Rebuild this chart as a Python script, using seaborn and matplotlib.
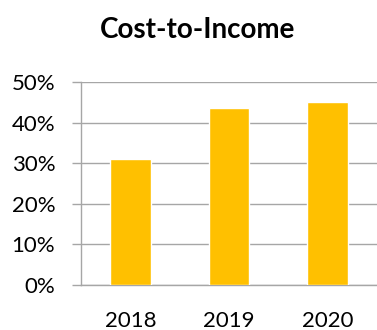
import matplotlib
matplotlib.use("Agg")
import matplotlib.pyplot as plt
import seaborn as sns
import pandas as pd
from matplotlib.ticker import FixedLocator, PercentFormatter

years = ["2018", "2019", "2020"]
cost_to_income = [31.0, 43.6, 45.0]
y_ticks = [0, 10, 20, 30, 40, 50]

sns.set_theme(style="white")
plt.rcParams['font.family'] = ['Lato', 'DejaVu Sans']

df = pd.DataFrame({"year": years, "ratio": cost_to_income})

fig = plt.figure(figsize=(3.77, 3.30), dpi=100)
ax = fig.add_axes([0.2149, 0.1364, 0.7851, 0.6151])

sns.barplot(data=df, x="year", y="ratio", color="#FFC000", width=0.41,
            saturation=1, ax=ax, zorder=3)

ax.set_ylim(0, 50)
ax.set_xlim(-0.5, 2.5)
ax.set_yticks(y_ticks)
ax.yaxis.set_major_formatter(PercentFormatter(decimals=0))
ax.yaxis.grid(True, color="#A6A6A6", linewidth=1, zorder=0)
ax.set_axisbelow(True)

# category separators on the x axis, as in Excel
ax.tick_params(axis="x", which="major", length=0, labelsize=16, pad=19, colors="black")
ax.xaxis.set_minor_locator(FixedLocator([-0.5, 0.5, 1.5, 2.5]))
ax.tick_params(axis="x", which="minor", length=5, width=1, color="#A6A6A6", direction="out")
ax.tick_params(axis="y", length=6.5, width=1, color="#A6A6A6", direction="out",
               labelsize=16, pad=12, left=True)
for lbl in ax.get_yticklabels() + ax.get_xticklabels():
    lbl.set_color("black")

for side in ["top", "right"]:
    ax.spines[side].set_visible(False)
for side in ["left", "bottom"]:
    ax.spines[side].set_color("#A6A6A6")
    ax.spines[side].set_linewidth(1)

ax.set_xlabel("")
ax.set_ylabel("")

fig.text(0.524, 0.909, "Cost-to-Income", ha="center", va="center",
         fontsize=20, fontweight="bold", color="black")

fig.savefig("out.png", dpi=100)
